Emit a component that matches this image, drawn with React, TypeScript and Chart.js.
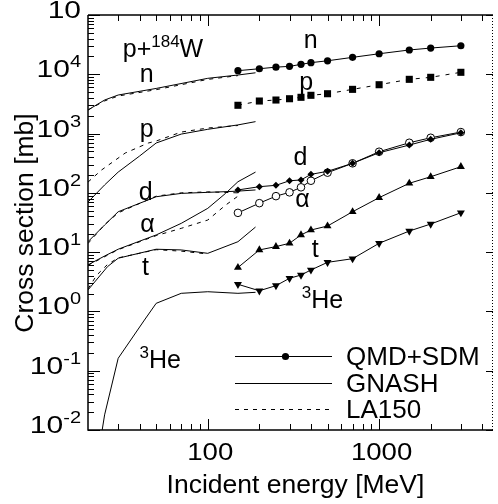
import React, { useEffect, useRef } from "react";
import { Chart, registerables } from "chart.js";

Chart.register(...registerables);

// ---- QMD+SDM (incident energies in MeV, cross sections in mb)
const qmdEnergy = [150, 200, 250, 300, 350, 400, 500, 700, 1000, 1500, 2000, 3000];
const qmdN = [11500, 12400, 13200, 13600, 14700, 15700, 16900, 19300, 22200, 25700, 27700, 30300];
const qmdP = [3000, 3540, 3680, 3870, 4090, 4420, 4700, 5570, 6670, 8220, 8890, 10800];
const qmdD = [112, 127, 134, 160, 165, 205, 231, 315, 475, 640, 800, 1030];
const qmdAlpha = [46, 67, 88, 102, 124, 160, 219, 315, 494, 700, 850, 1060];
const qmdT = [5.5, 10.9, 12.4, 14.1, 19.5, 23.6, 27.6, 48, 83, 145, 187, 276];
const qmdHe3 = [2.87, 2.23, 2.72, 3.62, 4.11, 5.0, 6.73, 7.75, 14.1, 22.7, 29.8, 46.2];

// ---- GNASH
const gnashNE = [20, 25, 30, 50, 100, 150, 190];
const gnashN = [2500, 3680, 4470, 5770, 8550, 9720, 10600];
const gnashPE = [20, 25, 30, 40, 50, 70, 100, 150, 190];
const gnashP = [70, 136, 224, 418, 693, 980, 1180, 1400, 1590];
const gnashDE = [20, 25, 30, 50, 70, 100, 130, 150, 190];
const gnashD = [15, 28.7, 48, 86, 98, 102, 105, 107, 112];
const gnashAE = [20, 25, 30, 50, 70, 100, 127, 150, 190];
const gnashA = [6.1, 8.6, 11.2, 19.5, 30.6, 54.8, 98, 154, 224];
const gnashTE = [20, 26, 30, 50, 70, 100, 150, 190];
const gnashT = [2.3, 5.7, 7.9, 11.2, 10.9, 9.55, 15.0, 26.5];
const gnashHe3E = [23, 25, 30, 42.7, 50, 70, 100, 150, 190];
const gnashHe3 = [0.004, 0.018, 0.162, 0.716, 1.37, 2.02, 2.15, 2.02, 2.1];

// ---- LA150
const laNE = [20, 25, 30, 50, 100, 150];
const laN = [2500, 3550, 4300, 5500, 8200, 9500];
const laPE = [20, 24, 33, 45, 50, 70, 100, 150];
const laP = [152, 243, 470, 693, 749, 1060, 1240, 1367];
const laDE = [20, 25, 30, 50, 70, 100, 150];
const laD = [14, 29, 46, 88, 100, 104, 100];
const laAE = [20, 30, 50, 70, 100, 127, 150];
const laA = [6, 11, 19, 25.2, 34.8, 62, 88];
const laTE = [20, 22.5, 26, 30, 50, 70, 100];
const laT = [2.4, 4.1, 6.2, 8.0, 11.0, 10.4, 9.3];

// ---- axes
const xMin = 20;
const xMax = 4620;
const yMin = 0.01;
const yMax = 100000;
const yDecadeExps = [-2, -1, 0, 1, 2, 3, 4, 5];
const yTickExpLabels = ["-2", "-1", "0", "1", "2", "3", "4", ""];
const xMajorTicks = [100, 1000];
const xTickLabels = ["100", "1000"];
const xMinorTicks = [30, 40, 50, 60, 70, 80, 90, 200, 300, 400, 500, 600, 700, 800, 900, 2000, 3000, 4000];
const xTitle = "Incident energy [MeV]";
const yTitle = "Cross section [mb]";

// ---- curve labels (data coordinates of centre / baseline)
const curveLabelTexts = ["n", "p", "d", "α", "t", "n", "p", "d", "α", "t"];
const curveLabelE = [44, 44, 43.5, 44.5, 43.3, 399, 376, 347, 357, 424];
const curveLabelV = [7400, 875, 76, 21.9, 4.11, 27700, 5430, 295, 57.7, 8.28];
const he3LabelE = [40, 354];
const he3LabelV = [0.111, 1.14];
const titleE = 31.9;
const titleV = 19770;

const legendLabels = ["QMD+SDM", "GNASH", "LA150"];

const FONT = '"Liberation Sans", Arial, Helvetica, sans-serif';

type Seg = { t: string; sup?: boolean };

function drawRich(
  ctx: CanvasRenderingContext2D,
  segs: Seg[],
  x: number,
  y: number,
  align: "left" | "center" | "right",
  size: number,
  supSize: number,
  raise: number,
  sx = 1
) {
  ctx.save();
  ctx.translate(x, y);
  ctx.scale(sx, 1);
  ctx.textAlign = "left";
  ctx.textBaseline = "alphabetic";
  ctx.fillStyle = "#000";
  let w = 0;
  const widths = segs.map((s) => {
    ctx.font = `${s.sup ? supSize : size}px ${FONT}`;
    const m = ctx.measureText(s.t).width;
    w += m;
    return m;
  });
  let cx = align === "left" ? 0 : align === "center" ? -w / 2 : -w;
  segs.forEach((s, i) => {
    ctx.font = `${s.sup ? supSize : size}px ${FONT}`;
    ctx.fillText(s.t, cx, s.sup ? -raise : 0);
    cx += widths[i];
  });
  ctx.restore();
}

const pts = (xs: number[], ys: number[]) => xs.map((x, i) => ({ x, y: ys[i] }));

const decorPlugin = {
  id: "decor",
  afterDraw(chart: any) {
    const ctx: CanvasRenderingContext2D = chart.ctx;
    const a = chart.chartArea;
    const xs = chart.scales.x;
    const ys = chart.scales.y;
    ctx.save();
    ctx.strokeStyle = "#000";
    ctx.fillStyle = "#000";

    // frame
    ctx.lineWidth = 1.5;
    ctx.beginPath();
    ctx.moveTo(a.left, a.top);
    ctx.lineTo(a.left, a.bottom);
    ctx.lineTo(a.right, a.bottom);
    ctx.moveTo(a.left, a.top);
    ctx.lineTo(a.right, a.top);
    ctx.stroke();
    ctx.lineWidth = 1;
    ctx.setLineDash([1, 2]);
    ctx.beginPath();
    ctx.moveTo(a.right - 0.5, a.top);
    ctx.lineTo(a.right - 0.5, a.bottom);
    ctx.stroke();
    ctx.setLineDash([]);

    // y ticks
    ctx.lineWidth = 1;
    ctx.beginPath();
    yDecadeExps.forEach((e) => {
      const v = Math.pow(10, e);
      const py = Math.round(ys.getPixelForValue(v)) + 0.5;
      ctx.moveTo(a.left, py);
      ctx.lineTo(a.left + 12, py);
      ctx.moveTo(a.right, py);
      ctx.lineTo(a.right - 7, py);
      if (e < 5) {
        for (let m = 2; m <= 9; m++) {
          const pm = Math.round(ys.getPixelForValue(m * v)) + 0.5;
          ctx.moveTo(a.left, pm);
          ctx.lineTo(a.left + 6, pm);
        }
      }
    });
    // x ticks
    xMajorTicks.forEach((t) => {
      const px = Math.round(xs.getPixelForValue(t)) + 0.5;
      ctx.moveTo(px, a.bottom);
      ctx.lineTo(px, a.bottom - 11);
      ctx.moveTo(px, a.top);
      ctx.lineTo(px, a.top + 11);
    });
    xMinorTicks.forEach((t) => {
      const px = Math.round(xs.getPixelForValue(t)) + 0.5;
      ctx.moveTo(px, a.bottom);
      ctx.lineTo(px, a.bottom - 6);
      ctx.moveTo(px, a.top);
      ctx.lineTo(px, a.top + 6);
    });
    ctx.stroke();

    // y tick labels
    yDecadeExps.forEach((e, i) => {
      const py = ys.getPixelForValue(Math.pow(10, e));
      const segs: Seg[] = [{ t: "10" }];
      if (yTickExpLabels[i]) segs.push({ t: yTickExpLabels[i], sup: true });
      drawRich(ctx, segs, a.left - 7, py + 3, "right", 24, 16, 10, 1.25);
    });
    // x tick labels
    xMajorTicks.forEach((t, i) => {
      const px = xs.getPixelForValue(t);
      drawRich(ctx, [{ t: xTickLabels[i] }], px + 2.5, a.bottom + 30, "center", 24, 16, 10, 1.15);
    });

    // axis titles
    ctx.font = `26.5px ${FONT}`;
    ctx.textAlign = "center";
    ctx.textBaseline = "alphabetic";
    ctx.fillText(xTitle, (a.left + a.right) / 2 + 5, a.bottom + 63);
    ctx.save();
    ctx.translate(33, 223);
    ctx.rotate(-Math.PI / 2);
    ctx.font = `26.5px ${FONT}`;
    ctx.fillText(yTitle, 0, 0);
    ctx.restore();

    // curve labels
    curveLabelTexts.forEach((t, i) => {
      drawRich(ctx, [{ t }], xs.getPixelForValue(curveLabelE[i]), ys.getPixelForValue(curveLabelV[i]), "center", 25, 16, 10);
    });
    he3LabelE.forEach((e, i) => {
      drawRich(ctx, [{ t: "3", sup: true }, { t: "He" }], xs.getPixelForValue(e), ys.getPixelForValue(he3LabelV[i]), "left", 25, 17, 10);
    });
    drawRich(ctx, [{ t: "p+" }, { t: "184", sup: true }, { t: "W" }], xs.getPixelForValue(titleE), ys.getPixelForValue(titleV), "left", 25, 17, 10);

    // legend
    const lx0 = 235;
    const lx1 = 332;
    const ly = [356, 382.5, 409];
    ctx.lineWidth = 1;
    legendLabels.forEach((lab, i) => {
      ctx.setLineDash(i === 2 ? [4, 5] : []);
      ctx.beginPath();
      ctx.moveTo(lx0, Math.round(ly[i]) + 0.5);
      ctx.lineTo(lx1, Math.round(ly[i]) + 0.5);
      ctx.stroke();
      ctx.setLineDash([]);
      if (i === 0) {
        ctx.beginPath();
        ctx.arc((lx0 + lx1) / 2 + 2, Math.round(ly[i]) + 0.5, 3.6, 0, Math.PI * 2);
        ctx.fill();
      }
      ctx.font = `26px ${FONT}`;
      ctx.textAlign = "left";
      ctx.textBaseline = "alphabetic";
      ctx.fillText(lab, 346, ly[i] + 9);
    });
    ctx.restore();
  },
};

export default function App() {
  const ref = useRef<HTMLCanvasElement | null>(null);
  useEffect(() => {
    if (!ref.current) return;

    const base = {
      borderColor: "#000",
      backgroundColor: "#000",
      borderWidth: 1,
      tension: 0,
      pointBorderWidth: 0,
    };
    const gn = (xs: number[], ys: number[], dashed: boolean) => ({
      ...base,
      data: pts(xs, ys),
      pointRadius: 0,
      borderDash: dashed ? [4, 5] : [],
    });

    const chart = new Chart(ref.current, {
      type: "line",
      data: {
        datasets: [
          gn(gnashNE, gnashN, false),
          gn(gnashPE, gnashP, false),
          gn(gnashDE, gnashD, false),
          gn(gnashAE, gnashA, false),
          gn(gnashTE, gnashT, false),
          gn(gnashHe3E, gnashHe3, false),
          gn(laNE, laN, true),
          gn(laPE, laP, true),
          gn(laDE, laD, true),
          gn(laAE, laA, true),
          gn(laTE, laT, true),
          { ...base, data: pts(qmdEnergy, qmdN), pointStyle: "circle", pointRadius: 3.6 },
          { ...base, data: pts(qmdEnergy, qmdP), pointStyle: "rect", pointRadius: 5, borderDash: [4, 6] },
          { ...base, data: pts(qmdEnergy, qmdD), pointStyle: "rectRot", pointRadius: 3.5 },
          {
            ...base,
            data: pts(qmdEnergy, qmdAlpha),
            pointStyle: "circle",
            pointRadius: 3.8,
            pointBackgroundColor: "#fff",
            pointBorderColor: "#000",
            pointBorderWidth: 1,
          },
          {
            ...base,
            data: pts(qmdEnergy, qmdAlpha),
            showLine: false,
            pointStyle: "circle",
            pointRadius: 1,
          },
          { ...base, data: pts(qmdEnergy, qmdT), pointStyle: "triangle", pointRadius: 4.6 },
          { ...base, data: pts(qmdEnergy, qmdHe3), pointStyle: "triangle", pointRotation: 180, pointRadius: 4.6 },
        ] as any,
      },
      options: {
        animation: false,
        responsive: false,
        devicePixelRatio: 1,
        events: [],
        layout: { padding: { left: 88, top: 15, right: 1, bottom: 74 } },
        plugins: { legend: { display: false }, tooltip: { enabled: false } },
        scales: {
          x: { type: "logarithmic", min: xMin, max: xMax, display: false },
          y: { type: "logarithmic", min: yMin, max: yMax, display: false },
        },
      } as any,
      plugins: [decorPlugin],
    });
    return () => chart.destroy();
  }, []);
  return (
    <div style={{ position: "absolute", left: 0, top: 0, width: 498, height: 504, background: "#fff" }}>
      <canvas ref={ref} width={498} height={504} style={{ display: "block", width: 498, height: 504 }} />
    </div>
  );
}
